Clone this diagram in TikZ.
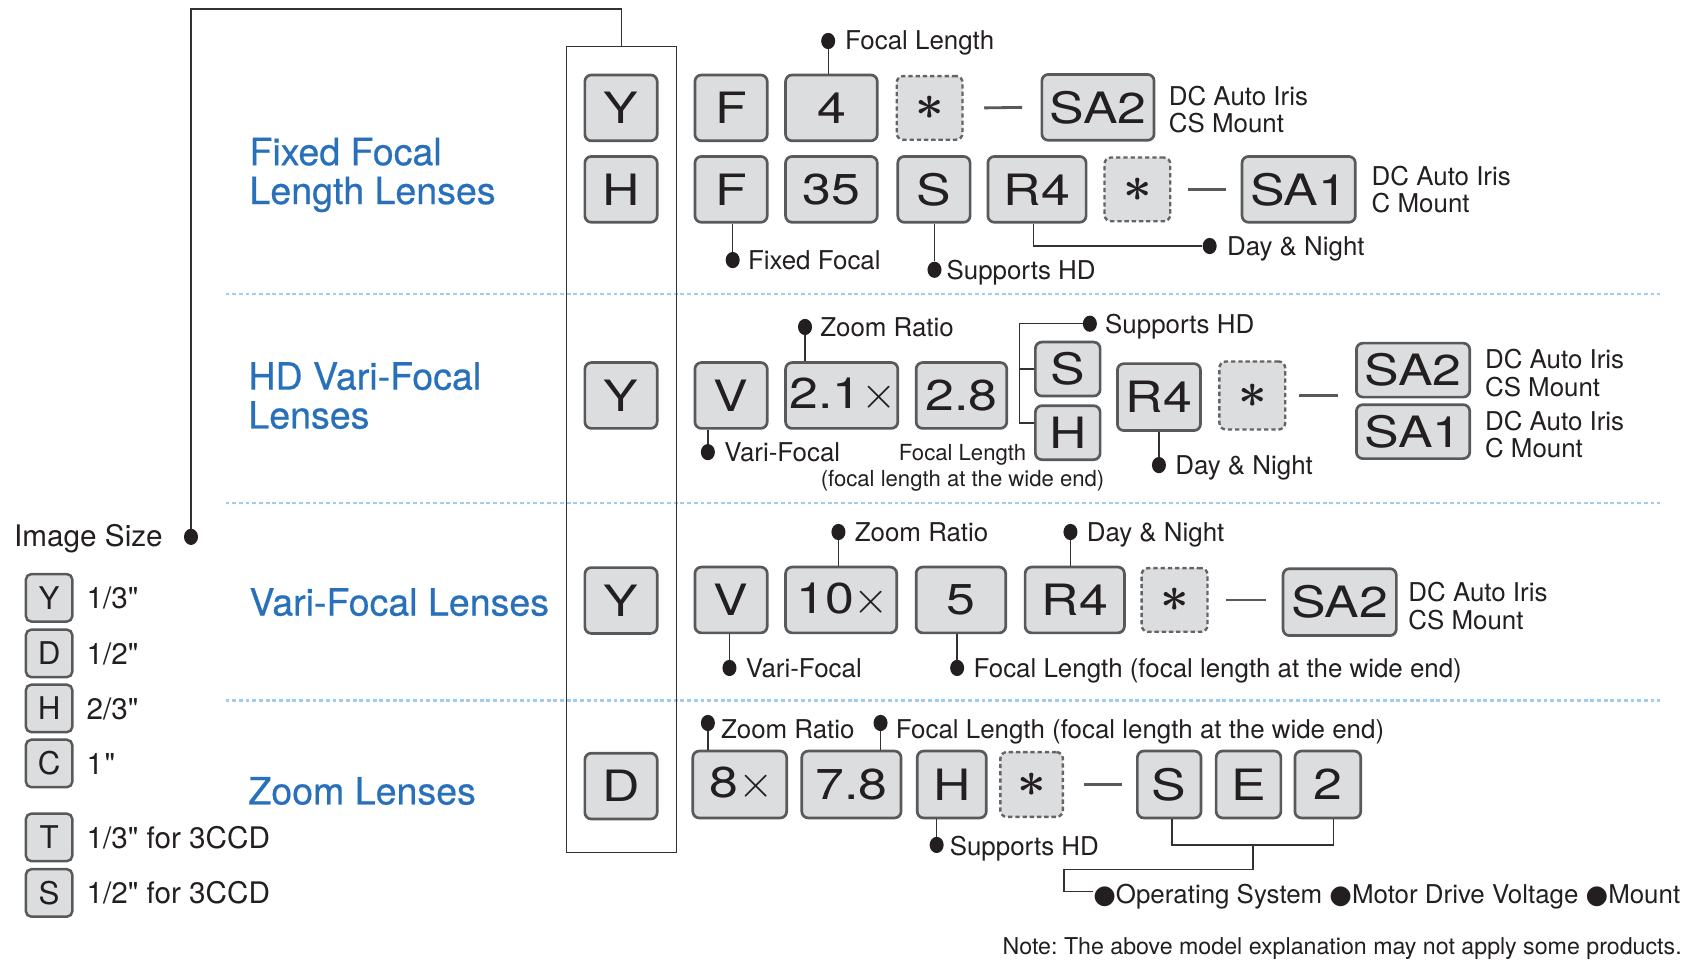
\documentclass[tikz,border=0pt]{standalone}
\usepackage{fontspec}
\usepackage{graphicx}
\setmainfont{TeX Gyre Heros}
\newfontfamily\plainfam{TeX Gyre Heros}
\newfontfamily\bxfam{TeX Gyre Heros}[FakeStretch=1.2]
\newfontfamily\dvfam{DejaVu Sans}
\newfontfamily\ttlfam{TeX Gyre Heros}[FakeBold=0.5]
\usetikzlibrary{shapes.geometric}
\frenchspacing
\definecolor{boxgray}{RGB}{220,221,223}
\definecolor{bordergray}{RGB}{88,89,91}
\definecolor{dashgray}{RGB}{100,100,102}
\definecolor{linegray}{RGB}{50,50,50}
\definecolor{sepblue}{RGB}{160,205,238}
\definecolor{titleblue}{RGB}{40,112,186}
\definecolor{textblack}{RGB}{35,31,32}
\newcommand{\bxfont}{\bxfam\fontsize{40}{40}\selectfont}
\newcommand{\lgbxfont}{\plainfam\fontsize{29}{29}\selectfont}
\newcommand{\labfont}{\fontsize{24}{25.5}\selectfont}
\newcommand{\smlabfont}{\fontsize{20.5}{24}\selectfont}
\newcommand{\legfont}{\plainfam\fontsize{27.5}{28}\selectfont}
\newcommand{\ttlfont}{\ttlfam\fontsize{34.8}{36}\selectfont}
\newcommand{\notefont}{\fontsize{21.5}{22}\selectfont}
\newcommand{\astk}{\scalebox{4.6}{\boldmath$\ast$}}
\newcommand{\mtimes}{\scalebox{4.2}{\fontsize{10}{12}\selectfont$\times$}\kern-3pt}
\begin{document}
\begin{tikzpicture}[x=1pt,y=-1pt,
  kbox/.style={draw=bordergray, fill=boxgray, line width=2.5pt, rounded corners=6pt, inner sep=0pt, minimum width=67pt, minimum height=61pt, font=\bxfont, text=textblack},
  dbox/.style={kbox, draw=dashgray, line width=2.2pt, dash pattern=on 4pt off 2.7pt, minimum height=59pt, minimum width=61pt, font=\fontsize{10}{12}\selectfont},
  lbox/.style={kbox, minimum width=43pt, minimum height=44pt, line width=2.3pt, rounded corners=5pt, font=\lgbxfont},
  lab/.style={anchor=west, inner sep=0pt, font=\labfont, text=textblack, text height=17.2pt, text depth=0pt},
  labtwo/.style={anchor=north west, inner sep=0pt, font=\labfont, text=textblack, align=left},
  leg/.style={anchor=west, inner sep=0pt, font=\legfont, text=textblack, text height=19.7pt, text depth=0pt},
  ttl/.style={inner sep=0pt, font=\ttlfont, text=titleblue, align=left},
  dotn/.style={ellipse, fill=textblack, inner sep=0pt, minimum width=13pt, minimum height=15pt},
  conn/.style={draw=linegray, line width=1.3pt},
  dashl/.style={draw=bordergray, line width=2.6pt},
  sep/.style={draw=sepblue, line width=2.4pt, dash pattern=on 3.6pt off 2.6pt},
]
\useasboundingbox (0,0) rectangle (1568,890);

% separators
\draw[sep] (209,272.5) -- (1538,272.5);
\draw[sep] (209,466) -- (1538,466);
\draw[sep] (209,649) -- (1538,649);

% column frame
\node[draw=linegray, line width=1.3pt, minimum width=102pt, minimum height=747pt, inner sep=0pt] (col) at (576,416.5) {};

% titles
\node[ttl, anchor=north west] (t1) at (231,127.5) {Fixed Focal\\Length Lenses};
\node[ttl, anchor=north west] (t2) at (230,335.5) {HD Vari-Focal\\Lenses};
\node[ttl, anchor=west, text height=24.9pt, text depth=0pt] (t3) at (231,558) {Vari-Focal Lenses};
\node[ttl, anchor=west, text height=24.9pt, text depth=0pt] (t4) at (230,733) {Zoom Lenses};

% legend
\node[leg] (isz) at (13,497) {Image Size};
\node[dotn] (isdot) at (177,497.5) {};
\draw[conn] (isdot) -- (isdot |- 0,8.5) -- (col.north |- 0,8.5) -- (col.north);
\node[lbox] (lgY) at (45.5,554) {Y};
\node[lbox] (lgD) at (45.5,605.5) {D};
\node[lbox] (lgH) at (45.5,656.5) {H};
\node[lbox] (lgC) at (45.5,707.5) {C};
\node[lbox] (lgT) at (45.5,776) {T};
\node[lbox] (lgS) at (45.5,827.5) {S};
\node[leg] (ltY) at (80,554) {1/3"};
\node[leg] (ltD) at (80,605.5) {1/2"};
\node[leg] (ltH) at (80,656.5) {2/3"};
\node[leg] (ltC) at (80,707.5) {1\kern1.5pt"};
\node[leg] (ltT) at (80,776) {1/3" for 3CCD};
\node[leg] (ltS) at (80,827.5) {1/2" for 3CCD};

% ---------- row 1
\node[kbox] (c1Y) at (575.5,100) {Y};
\node[kbox] (r1F) at (677.5,100) {F};
\node[kbox, minimum width=85pt] (r14) at (770.5,100) {4};
\node[dbox] (r1a) at (861.5,100) {\astk};
\node[kbox, minimum width=104pt] (r1sa) at (1017.5,99.5) {SA2};
\draw[dashl] ([xshift=19pt]r1a.east) -- ([xshift=-17pt]r1sa.west);
\node[labtwo] (l1sa) at (1083,79.4) {DC Auto Iris\\CS Mount};
\node[dotn] (d11) at (767.5,38) {};
\node[lab] (l11) at (783,37) {Focal Length};
\draw[conn] (d11) -- (d11 |- r14.north);

% ---------- row 2
\node[kbox] (c2H) at (575.5,175.5) {H};
\node[kbox] (r2F) at (677.5,175.5) {F};
\node[kbox, minimum width=85pt] (r235) at (770.5,175.5) {35};
\node[kbox] (r2S) at (865.5,175.5) {S};
\node[kbox, minimum width=91pt] (r2R) at (961,175.5) {R4};
\node[dbox] (r2a) at (1054,175.5) {\astk};
\node[kbox, minimum width=105pt] (r2sa) at (1203.5,175.5) {SA1};
\draw[dashl] ([xshift=15.5pt]r2a.east) -- ([xshift=-14pt]r2sa.west);
\node[labtwo] (l2sa) at (1271,153.4) {DC Auto Iris\\C Mount};
\node[dotn] (d21) at (679,241) {};
\node[lab] (l21) at (693,241) {Fixed Focal};
\draw[conn] (d21 |- r2F.south) -- (d21);
\node[dotn] (d22) at (866,250) {};
\node[lab] (l22) at (877,250) {Supports HD};
\draw[conn] (d22 |- r2S.south) -- (d22);
\node[dotn] (d23) at (1121,228) {};
\node[lab] (l23) at (1137,228) {Day \& Night};
\draw[conn] ([xshift=-3pt]r2R.south) |- (d23);

% ---------- row 3
\node[kbox] (c3Y) at (575.5,366.5) {Y};
\node[kbox] (r3V) at (677.5,366.5) {V};
\node[kbox, minimum width=104pt] (r3z) at (780,366.5) {2.1\mtimes};
\node[kbox, minimum width=84pt] (r3f) at (891,366.5) {2.8};
\node[kbox, minimum width=60pt, minimum height=50pt] (r3S) at (989.5,342) {S};
\node[kbox, minimum width=60pt, minimum height=50pt] (r3H) at (989.5,401) {H};
\node[kbox, minimum width=77pt, minimum height=62pt] (r3R) at (1074,368) {R4};
\node[dbox, minimum height=63pt] (r3a) at (1160.5,366.5) {\astk};
\node[kbox, minimum width=105pt, minimum height=50pt] (r3s2) at (1309.5,343) {SA2};
\node[kbox, minimum width=105pt, minimum height=50pt] (r3s1) at (1309.5,400) {SA1};
\draw[dashl] ([xshift=12pt]r3a.east) -- ([xshift=-16pt]r3s2.west |- r3a.east);
\node[labtwo] (l3s2) at (1376,323.4) {DC Auto Iris\\CS Mount};
\node[labtwo] (l3s1) at (1376,380.4) {DC Auto Iris\\C Mount};
\node[dotn] (d31) at (746,303) {};
\node[lab] (l31) at (760,303) {Zoom Ratio};
\draw[conn] (d31) -- (d31 |- r3z.north);
\node[dotn] (d32) at (1010,300) {};
\node[lab] (l32) at (1024,300) {Supports HD};
\coordinate (b3) at (945,392);
\draw[conn] (d32) -| (b3) -- (b3 -| r3H.west);
\draw[conn] (r3S.west -| b3) -- (r3S.west);
\node[dotn] (d33) at (656,419) {};
\node[lab] (l33) at (671,419) {Vari-Focal};
\draw[conn] (d33 |- r3V.south) -- (d33);
\node[anchor=north, inner sep=0pt, align=center, font=\smlabfont, text=textblack] (l34) at (892,411.6) {Focal Length\\(focal length at the wide end)};
\node[dotn] (d35) at (1074,431) {};
\node[lab] (l35) at (1089,431) {Day \& Night};
\draw[conn] (r3R.south) -- (d35);

% ---------- row 4
\node[kbox] (c4Y) at (575.5,556.5) {Y};
\node[kbox] (r4V) at (677.5,556) {V};
\node[kbox, minimum width=103pt] (r410) at (779.5,556) {10\mtimes};
\node[kbox, minimum width=83pt] (r45) at (890.5,556) {5};
\node[kbox, minimum width=92pt] (r4R) at (996,556) {R4};
\node[dbox] (r4a) at (1088.5,556) {\astk};
\node[kbox, minimum width=105pt, minimum height=62pt] (r4sa) at (1241.5,558) {SA2};
\draw[dashl] ([xshift=16pt]r4a.east) -- ([xshift=-15pt]r4sa.west |- r4a.east);
\node[labtwo] (l4sa) at (1305,539.4) {DC Auto Iris\\CS Mount};
\node[dotn] (d41) at (777,493) {};
\node[lab] (l41) at (792,493) {Zoom Ratio};
\draw[conn] (d41) -- (d41 |- r410.north);
\node[dotn] (d42) at (992,493) {};
\node[lab] (l42) at (1007,493) {Day \& Night};
\draw[conn] (d42) -- (d42 |- r4R.north);
\node[dotn] (d43) at (676,619) {};
\node[lab] (l43) at (691,619) {Vari-Focal};
\draw[conn] (d43 |- r4V.south) -- (d43);
\node[dotn] (d44) at (887,619) {};
\node[lab] (l44) at (902,619) {Focal Length (focal length at the wide end)};
\draw[conn] (d44 |- r45.south) -- (d44);

% ---------- row 5
\node[kbox] (c5D) at (575.5,728.5) {D};
\node[kbox, minimum width=87pt, minimum height=62pt] (r58) at (685.5,727) {8\mtimes};
\node[kbox, minimum width=92pt, minimum height=62pt] (r578) at (789,727) {7.8};
\node[kbox, minimum width=64pt, minimum height=62pt] (r5H) at (882,727) {H};
\node[dbox, minimum width=58pt, minimum height=60pt] (r5a) at (956,727) {\astk};
\node[kbox, minimum width=59pt, minimum height=62pt] (r5S) at (1083.5,727) {S};
\node[kbox, minimum width=60pt, minimum height=62pt] (r5E) at (1157,727) {E};
\node[kbox, minimum width=61pt, minimum height=62pt] (r52) at (1230.5,727) {2};
\draw[dashl] ([xshift=18pt]r5a.east) -- ([xshift=-13pt]r5S.west);
\node[dotn] (d51) at (656,670) {};
\node[lab] (l51) at (668,676) {Zoom Ratio};
\draw[conn] (d51) -- (d51 |- r58.north);
\node[dotn] (d52) at (816,670) {};
\node[lab] (l52) at (830,676) {Focal Length (focal length at the wide end)};
\draw[conn] (d52) -- (d52 |- r578.north);
\node[dotn] (d53) at (868,783) {};
\node[lab] (l53) at (880,784) {Supports HD};
\draw[conn] (d53 |- r5H.south) -- (d53);
\coordinate (bj) at (1161,783);
\draw[conn] ([xshift=2.5pt]r5S.south) |- (bj) -| ([xshift=5.5pt]r52.south);
\node[lab] (l54) at (1013,829) {{\dvfam ●}Operating System {\dvfam ●}Motor Drive Voltage {\dvfam ●}Mount};
\draw[conn] (bj) -- ++(0,23) -- ++(-175,0) |- ([yshift=3pt]l54.west);

% note
\node[anchor=west, inner sep=0pt, font=\notefont, text=textblack, text height=15.4pt, text depth=0pt] (note) at (929,877) {Note: The above model explanation may not apply some products.};
\end{tikzpicture}
\end{document}
